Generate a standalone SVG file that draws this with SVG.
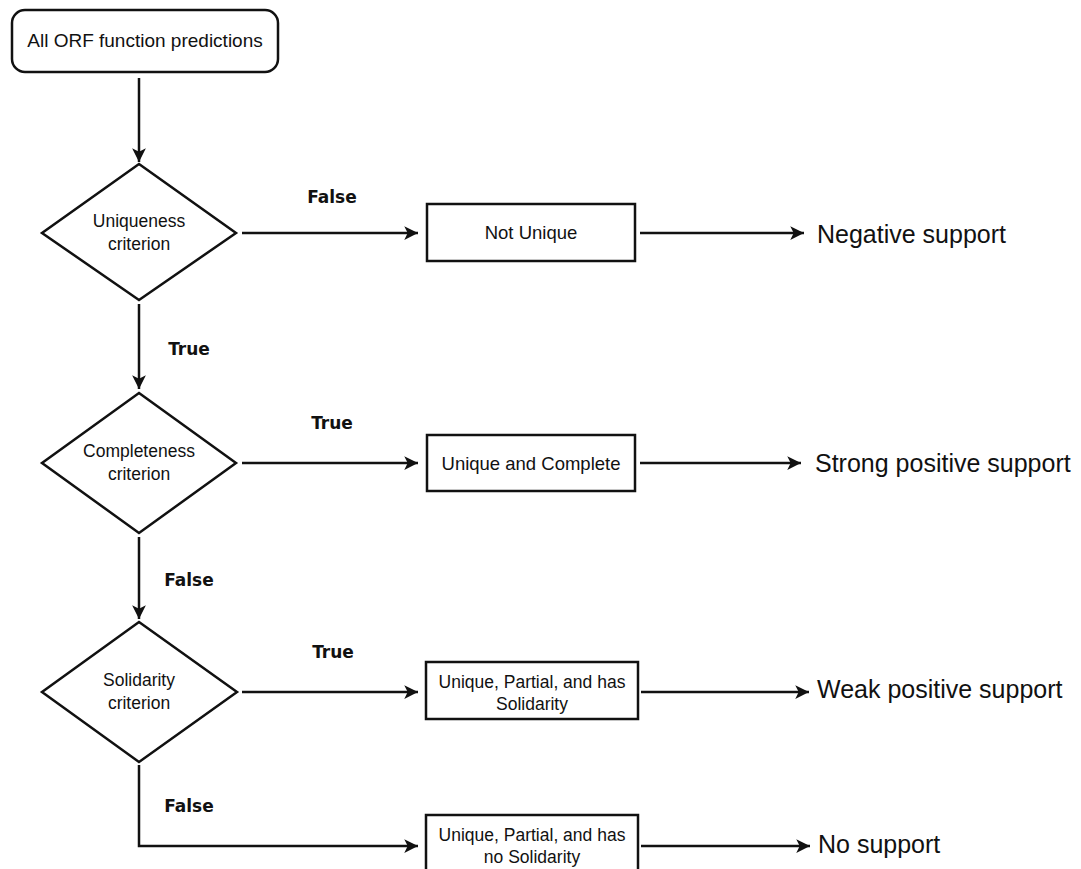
<svg xmlns="http://www.w3.org/2000/svg" width="1081" height="869" viewBox="0 0 1081 869">
<style>
.shape{fill:#fff;stroke:#111;stroke-width:2.5}
.edge{fill:none;stroke:#111;stroke-width:2.5}
.t{font-family:"Liberation Sans",Arial,sans-serif;fill:#111;text-anchor:middle}
.n{font-size:17.5px}
.b{font-size:18.5px}
.p{font-size:17.5px}
.big{font-family:"Liberation Sans",Arial,sans-serif;fill:#111;font-size:25px}
.lbl{font-family:"DejaVu Sans",sans-serif;font-weight:bold;font-size:17px;fill:#111;text-anchor:middle}
</style>
<defs>
<marker id="ah" viewBox="0 0 10 10" refX="10" refY="5" markerWidth="5.5" markerHeight="5.5" orient="auto" markerUnits="strokeWidth">
<path d="M0,0 L10,5 L0,10 L2.5,5 z" fill="#111"/>
</marker>
</defs>
<rect width="1081" height="869" fill="#fff"/>
<g id="connectors">
<line class="edge" x1="139" y1="78" x2="139" y2="162" marker-end="url(#ah)"/>
<line class="edge" x1="242" y1="233" x2="418" y2="233" marker-end="url(#ah)"/>
<line class="edge" x1="640" y1="233" x2="804" y2="233" marker-end="url(#ah)"/>
<line class="edge" x1="139" y1="304" x2="139" y2="389" marker-end="url(#ah)"/>
<line class="edge" x1="242" y1="463" x2="418" y2="463" marker-end="url(#ah)"/>
<line class="edge" x1="640" y1="463" x2="801" y2="463" marker-end="url(#ah)"/>
<line class="edge" x1="139" y1="537" x2="139" y2="619" marker-end="url(#ah)"/>
<line class="edge" x1="242" y1="692" x2="418" y2="692" marker-end="url(#ah)"/>
<line class="edge" x1="641" y1="692" x2="809" y2="692" marker-end="url(#ah)"/>
<polyline class="edge" points="139,765 139,846 418,846" marker-end="url(#ah)"/>
<line class="edge" x1="641" y1="846" x2="810" y2="846" marker-end="url(#ah)"/>
<text class="lbl" x="332" y="203">False</text>
<text class="lbl" x="189" y="355">True</text>
<text class="lbl" x="332" y="429">True</text>
<text class="lbl" x="189" y="586">False</text>
<text class="lbl" x="333" y="658">True</text>
<text class="lbl" x="189" y="812">False</text>
</g>
<g id="start">
<rect class="shape" x="12" y="10" width="266" height="62" rx="13"/>
<text class="t" x="145" y="47" font-size="19">All ORF function predictions</text>
</g>
<g id="uniqueness">
<polygon class="shape" points="139,164 236,233 139,300 42,233"/>
<text class="t n" x="139" y="227">Uniqueness</text>
<text class="t n" x="139" y="250">criterion</text>
</g>
<g id="notunique">
<rect class="shape" x="427" y="204" width="208" height="57"/>
<text class="t b" x="531" y="239">Not Unique</text>
</g>
<g id="negative"><text class="big" x="817" y="243">Negative support</text></g>
<g id="completeness">
<polygon class="shape" points="139,393 236,463 139,533 42,463"/>
<text class="t n" x="139" y="457">Completeness</text>
<text class="t n" x="139" y="480">criterion</text>
</g>
<g id="uniquecomplete">
<rect class="shape" x="427" y="435" width="208" height="56"/>
<text class="t b" x="531" y="470">Unique and Complete</text>
</g>
<g id="strong"><text class="big" x="815" y="472">Strong positive support</text></g>
<g id="solidarity">
<polygon class="shape" points="139,622 237,692 139,762 42,692"/>
<text class="t n" x="139" y="686">Solidarity</text>
<text class="t n" x="139" y="709">criterion</text>
</g>
<g id="partialsolid">
<rect class="shape" x="426" y="662" width="212" height="57"/>
<text class="t p" x="532" y="688">Unique, Partial, and has</text>
<text class="t p" x="532" y="710">Solidarity</text>
</g>
<g id="weak"><text class="big" x="817" y="698">Weak positive support</text></g>
<g id="partialnosolid">
<rect class="shape" x="426" y="815" width="212" height="60"/>
<text class="t p" x="532" y="841">Unique, Partial, and has</text>
<text class="t p" x="532" y="863">no Solidarity</text>
</g>
<g id="nosupport"><text class="big" x="818" y="853">No support</text></g>
</svg>
